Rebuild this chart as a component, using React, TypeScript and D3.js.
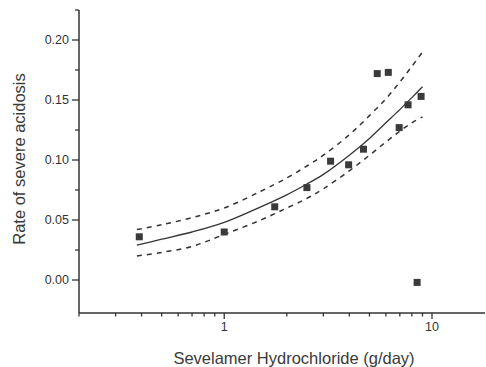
import * as d3 from "d3";
import { useRef, useEffect } from "react";

// observed points (dose g/day, rate)
const doseObs = [0.39, 1.0, 1.75, 2.5, 3.25, 3.97, 4.68, 5.45, 6.16, 6.95, 7.67, 8.86, 8.48];
const rateObs = [0.036, 0.040, 0.061, 0.077, 0.099, 0.096, 0.109, 0.172, 0.173, 0.127, 0.146, 0.153, -0.002];

// fitted curve and 95% band
const fitDose = [0.38, 0.5, 0.7, 1, 1.5, 2, 2.5, 3, 4, 5, 6, 7, 8, 9];
const fitRate = [0.029, 0.034, 0.040, 0.048, 0.061, 0.071, 0.080, 0.088, 0.104, 0.118, 0.131, 0.142, 0.152, 0.161];
const upperRate = [0.042, 0.046, 0.052, 0.060, 0.074, 0.085, 0.095, 0.104, 0.121, 0.137, 0.151, 0.165, 0.178, 0.190];
const lowerRate = [0.020, 0.023, 0.028, 0.038, 0.050, 0.060, 0.068, 0.076, 0.091, 0.104, 0.115, 0.124, 0.131, 0.136];

const yMajor = [0.0, 0.05, 0.1, 0.15, 0.2];
const yMinor = [0.025, 0.075, 0.125, 0.175, 0.225];
const xMajor = [1, 10];
const xMinor = [0.2, 0.3, 0.4, 0.5, 0.6, 0.7, 0.8, 0.9, 2, 3, 4, 5, 6, 7, 8, 9];

const W = 486;
const H = 367;
const ink = "#333";

export default function App() {
  const svgRef = useRef<SVGSVGElement | null>(null);

  useEffect(() => {
    const svg = d3.select(svgRef.current);
    svg.selectAll("*").remove();

    const x = d3.scaleLog().domain([0.2, 10]).range([79, 432]);
    const y = d3.scaleLinear().domain([-0.0275, 0.225]).range([313, 10]);
    const x0 = 79;
    const yBottom = 313;

    // axes lines
    svg.append("line")
      .attr("x1", x0).attr("x2", x0).attr("y1", 10).attr("y2", yBottom)
      .attr("stroke", ink).attr("stroke-width", 1.5);
    svg.append("line")
      .attr("x1", x0).attr("x2", 485).attr("y1", yBottom).attr("y2", yBottom)
      .attr("stroke", ink).attr("stroke-width", 1.5);

    // y ticks
    svg.selectAll(".ymaj").data(yMajor).join("line")
      .attr("x1", x0 - 7).attr("x2", x0)
      .attr("y1", (d) => y(d)).attr("y2", (d) => y(d))
      .attr("stroke", ink).attr("stroke-width", 1.3);
    svg.selectAll(".ymin").data(yMinor).join("line")
      .attr("x1", x0 - 4).attr("x2", x0)
      .attr("y1", (d) => y(d)).attr("y2", (d) => y(d))
      .attr("stroke", ink).attr("stroke-width", 1.3);
    svg.selectAll(".ylab").data(yMajor).join("text")
      .attr("x", x0 - 10).attr("y", (d) => y(d))
      .attr("dy", "0.35em")
      .attr("text-anchor", "end")
      .attr("font-family", "Liberation Sans, Arial, sans-serif")
      .attr("font-size", 12.5)
      .attr("fill", ink)
      .text((d) => d3.format(".2f")(d));

    // x ticks
    svg.selectAll(".xmaj").data(xMajor).join("line")
      .attr("x1", (d) => x(d)).attr("x2", (d) => x(d))
      .attr("y1", yBottom).attr("y2", yBottom + 6)
      .attr("stroke", ink).attr("stroke-width", 1.3);
    svg.selectAll(".xmin").data(xMinor).join("line")
      .attr("x1", (d) => x(d)).attr("x2", (d) => x(d))
      .attr("y1", yBottom).attr("y2", yBottom + 3.5)
      .attr("stroke", ink).attr("stroke-width", 1.3);
    svg.selectAll(".xlab").data(xMajor).join("text")
      .attr("x", (d) => x(d)).attr("y", yBottom + 18)
      .attr("text-anchor", "middle")
      .attr("font-family", "Liberation Sans, Arial, sans-serif")
      .attr("font-size", 12.5)
      .attr("fill", ink)
      .text((d) => String(d));

    // titles
    svg.append("text")
      .attr("x", 294).attr("y", 364)
      .attr("text-anchor", "middle")
      .attr("font-family", "Liberation Sans, Arial, sans-serif")
      .attr("font-size", 16.5)
      .attr("fill", "#3a3a3a")
      .text("Sevelamer Hydrochloride (g/day)");
    svg.append("text")
      .attr("transform", "translate(25,159) rotate(-90)")
      .attr("text-anchor", "middle")
      .attr("font-family", "Liberation Sans, Arial, sans-serif")
      .attr("font-size", 16.5)
      .attr("fill", "#3a3a3a")
      .text("Rate of severe acidosis");

    // curves
    const mk = (vals: number[]) =>
      d3.line<number>()
        .x((_, i) => x(fitDose[i]))
        .y((d) => y(d))
        .curve(d3.curveCatmullRom)(vals);

    svg.append("path").attr("d", mk(upperRate))
      .attr("fill", "none").attr("stroke", ink).attr("stroke-width", 1.5)
      .attr("stroke-dasharray", "5,5");
    svg.append("path").attr("d", mk(lowerRate))
      .attr("fill", "none").attr("stroke", ink).attr("stroke-width", 1.5)
      .attr("stroke-dasharray", "5,5");
    svg.append("path").attr("d", mk(fitRate))
      .attr("fill", "none").attr("stroke", ink).attr("stroke-width", 1.3);

    // points
    const s = 7;
    svg.selectAll(".pt").data(doseObs).join("rect")
      .attr("x", (d) => x(d) - s / 2)
      .attr("y", (_, i) => y(rateObs[i]) - s / 2)
      .attr("width", s).attr("height", s)
      .attr("fill", "#3a3a3a");
  }, []);

  return (
    <svg
      ref={svgRef}
      width={W}
      height={H}
      style={{ position: "absolute", left: 0, top: 0, background: "#fff" }}
    ></svg>
  );
}
